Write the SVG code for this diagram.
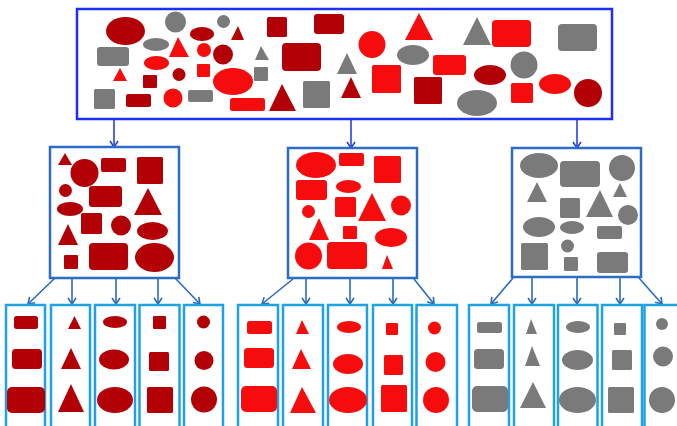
<svg xmlns="http://www.w3.org/2000/svg" width="677" height="426" viewBox="0 0 677 426">
<defs>
<marker id="ah1" viewBox="0 0 8 10" refX="7" refY="5" markerWidth="8" markerHeight="10" markerUnits="userSpaceOnUse" orient="auto">
<path d="M1,1 L7,5 L1,9" fill="none" stroke="#2a3fe0" stroke-width="1.6"/>
</marker>
<marker id="ah2" viewBox="0 0 8 10" refX="7" refY="5" markerWidth="8" markerHeight="10" markerUnits="userSpaceOnUse" orient="auto">
<path d="M1,1 L7,5 L1,9" fill="none" stroke="#2b69c2" stroke-width="1.6"/>
</marker>
<style>
.top{fill:#fff;stroke:#1f2ff0;stroke-width:2.5}
.mid{fill:#fff;stroke:#2b6cc4;stroke-width:2.5}
.bot{fill:#fff;stroke:#1ea2e6;stroke-width:2.5}
.c1{stroke:#2a3fe0;stroke-width:1.6;fill:none;marker-end:url(#ah1)}
.c2{stroke:#2b69c2;stroke-width:1.6;fill:none;marker-end:url(#ah2)}
.d{fill:#b30006}
.r{fill:#f60c0c}
.g{fill:#7a7a7a}
</style>
</defs>
<rect width="677" height="426" fill="#fff"/>

<g id="connectors">
<line class="c1" x1="114" y1="119" x2="114" y2="147"/>
<line class="c1" x1="351" y1="119" x2="351" y2="148"/>
<line class="c1" x1="577" y1="119" x2="577" y2="148"/>
<line class="c2" x1="55" y1="278" x2="28" y2="304"/>
<line class="c2" x1="72" y1="278" x2="72" y2="304"/>
<line class="c2" x1="116" y1="278" x2="116" y2="304"/>
<line class="c2" x1="158" y1="278" x2="158" y2="304"/>
<line class="c2" x1="175" y1="278" x2="200" y2="304"/>
<line class="c2" x1="293" y1="279" x2="262" y2="304"/>
<line class="c2" x1="306" y1="279" x2="306" y2="304"/>
<line class="c2" x1="350" y1="279" x2="350" y2="304"/>
<line class="c2" x1="393" y1="279" x2="393" y2="304"/>
<line class="c2" x1="414" y1="279" x2="434" y2="304"/>
<line class="c2" x1="513" y1="278" x2="491" y2="304"/>
<line class="c2" x1="532" y1="278" x2="532" y2="304"/>
<line class="c2" x1="577" y1="278" x2="577" y2="304"/>
<line class="c2" x1="620" y1="278" x2="620" y2="304"/>
<line class="c2" x1="639" y1="278" x2="662" y2="304"/>
</g>

<g id="top-set">
<rect class="top" x="77" y="9" width="535" height="110"/>
<ellipse class="d" cx="125.5" cy="31" rx="19.5" ry="14"/>
<circle class="g" cx="175.5" cy="22" r="10.5"/>
<circle class="g" cx="223.5" cy="21.5" r="6.5"/>
<ellipse class="d" cx="202" cy="34" rx="12" ry="7"/>
<polygon class="d" points="238,26 231,40 244,40"/>
<rect class="d" x="267" y="17" width="20" height="20" rx="1.5"/>
<rect class="d" x="314" y="14" width="30" height="20" rx="3"/>
<ellipse class="g" cx="156" cy="44.5" rx="13" ry="6.5"/>
<rect class="g" x="97" y="47" width="32" height="19" rx="3"/>
<polygon class="r" points="178,37 169,57 189,57"/>
<circle class="r" cx="204" cy="50" r="7"/>
<circle class="d" cx="223" cy="54.5" r="10"/>
<polygon class="g" points="261,46 255,60 269,60"/>
<rect class="d" x="282" y="43" width="39" height="28" rx="4"/>
<ellipse class="r" cx="156.5" cy="63" rx="12.5" ry="7"/>
<polygon class="r" points="120,68 113,81 127,81"/>
<rect class="d" x="143" y="75" width="14" height="13" rx="1"/>
<circle class="d" cx="179" cy="74.5" r="6.5"/>
<rect class="r" x="197" y="64" width="13" height="13" rx="1"/>
<ellipse class="r" cx="233" cy="81.5" rx="20" ry="13.5"/>
<rect class="g" x="254" y="67" width="14" height="14" rx="1"/>
<rect class="g" x="94" y="89" width="21" height="20" rx="1.5"/>
<rect class="d" x="126" y="94" width="25" height="13" rx="2"/>
<circle class="r" cx="173" cy="98" r="9.5"/>
<rect class="g" x="188" y="90" width="25" height="12" rx="2"/>
<rect class="r" x="230" y="98" width="35" height="13" rx="2.5"/>
<polygon class="d" points="282,84 269,111 296,111"/>
<rect class="g" x="303" y="81" width="27" height="27" rx="1.5"/>
<polygon class="g" points="347,53 337,74 357,74"/>
<circle class="r" cx="372" cy="44.5" r="13.5"/>
<polygon class="r" points="419,13 405,40 433,40"/>
<polygon class="g" points="477,17 463,45 491,45"/>
<rect class="r" x="492" y="20" width="39" height="27" rx="4"/>
<rect class="g" x="558" y="24" width="39" height="27" rx="4"/>
<ellipse class="g" cx="413" cy="55" rx="16" ry="10"/>
<rect class="r" x="433" y="55" width="33" height="20" rx="3"/>
<circle class="g" cx="524" cy="65" r="13.5"/>
<rect class="r" x="372" y="65" width="29" height="28" rx="1.5"/>
<polygon class="d" points="351,77 341,98 361,98"/>
<rect class="d" x="414" y="77" width="28" height="27" rx="1.5"/>
<ellipse class="d" cx="490" cy="75" rx="16" ry="10"/>
<ellipse class="g" cx="477" cy="103" rx="20" ry="13"/>
<rect class="r" x="511" y="83" width="22" height="20" rx="1.5"/>
<ellipse class="r" cx="555" cy="84" rx="16" ry="10"/>
<circle class="d" cx="588" cy="93" r="14"/>
</g>

<g id="group-darkred">
<rect class="mid" x="50" y="147" width="129" height="131"/>
<polygon class="d" points="65,153 58,165 72,165"/>
<circle class="d" cx="84.5" cy="173" r="14"/>
<rect class="d" x="101" y="158" width="25" height="14" rx="2"/>
<rect class="d" x="137" y="157" width="26" height="27" rx="1.5"/>
<circle class="d" cx="65.5" cy="190.5" r="6.5"/>
<rect class="d" x="89" y="186" width="33" height="21" rx="3"/>
<polygon class="d" points="148,188 134,215 162,215"/>
<ellipse class="d" cx="70" cy="209" rx="13" ry="7"/>
<rect class="d" x="81" y="213" width="21" height="21" rx="1.5"/>
<circle class="d" cx="121" cy="225.5" r="10"/>
<ellipse class="d" cx="152.5" cy="231" rx="15.5" ry="9"/>
<polygon class="d" points="68,224 58,245 78,245"/>
<rect class="d" x="89" y="243" width="39" height="27" rx="4"/>
<ellipse class="d" cx="154.5" cy="257.5" rx="19.5" ry="14.5"/>
<rect class="d" x="64" y="255" width="14" height="14" rx="1"/>
</g>

<g id="group-red">
<rect class="mid" x="288" y="148" width="129" height="130"/>
<ellipse class="r" cx="316" cy="165" rx="20" ry="13"/>
<rect class="r" x="339" y="153" width="25" height="13" rx="2"/>
<rect class="r" x="374" y="156" width="27" height="27" rx="1.5"/>
<rect class="r" x="296" y="180" width="31" height="20" rx="3"/>
<ellipse class="r" cx="348.5" cy="186.5" rx="12.5" ry="6.5"/>
<rect class="r" x="335" y="197" width="21" height="20" rx="1.5"/>
<polygon class="r" points="372,193 358,221 386,221"/>
<circle class="r" cx="401" cy="205.5" r="10"/>
<circle class="r" cx="308.5" cy="211.5" r="6.5"/>
<polygon class="r" points="319,218 309,240 329,240"/>
<rect class="r" x="343" y="226" width="14" height="13" rx="1"/>
<ellipse class="r" cx="391" cy="237.5" rx="16" ry="9.5"/>
<circle class="r" cx="308.5" cy="256" r="13.5"/>
<rect class="r" x="327" y="242" width="40" height="27" rx="4"/>
<polygon class="r" points="387,255 382,269 393,269"/>
</g>

<g id="group-gray">
<rect class="mid" x="512" y="148" width="129" height="129"/>
<ellipse class="g" cx="539" cy="165.5" rx="19" ry="12.5"/>
<rect class="g" x="560" y="161" width="40" height="26" rx="4"/>
<circle class="g" cx="622" cy="168" r="13"/>
<polygon class="g" points="537,182 527,202 547,202"/>
<polygon class="g" points="620,183 613,197 627,197"/>
<rect class="g" x="560" y="198" width="20" height="20" rx="1.5"/>
<polygon class="g" points="600,190 586,217 613,217"/>
<circle class="g" cx="628" cy="215" r="10"/>
<ellipse class="g" cx="539" cy="227" rx="16" ry="10"/>
<ellipse class="g" cx="572" cy="227.5" rx="12" ry="6.5"/>
<rect class="g" x="597" y="226" width="25" height="13" rx="2"/>
<rect class="g" x="521" y="243" width="27" height="27" rx="1.5"/>
<circle class="g" cx="567.5" cy="246" r="6.5"/>
<rect class="g" x="564" y="257" width="14" height="14" rx="1"/>
<rect class="g" x="597" y="252" width="31" height="21" rx="3"/>
</g>

<g id="dr-rects">
<rect class="bot" x="6" y="305" width="39" height="130"/>
<rect class="d" x="14" y="316" width="24" height="13" rx="2.5"/>
<rect class="d" x="12" y="349" width="30" height="20" rx="3.5"/>
<rect class="d" x="7" y="387" width="38" height="26" rx="5"/>
</g>
<g id="dr-triangles">
<rect class="bot" x="51" y="305" width="39" height="130"/>
<polygon class="d" points="74.5,316 68,329 81,329"/>
<polygon class="d" points="71,348 61,369 81,369"/>
<polygon class="d" points="71,384 58,412 84,412"/>
</g>
<g id="dr-ellipses">
<rect class="bot" x="95" y="305" width="40" height="130"/>
<ellipse class="d" cx="115" cy="322" rx="12" ry="6"/>
<ellipse class="d" cx="114" cy="359.5" rx="15" ry="10"/>
<ellipse class="d" cx="115" cy="400" rx="18" ry="13"/>
</g>
<g id="dr-squares">
<rect class="bot" x="139.5" y="305" width="40" height="130"/>
<rect class="d" x="153" y="316" width="13" height="13" rx="1"/>
<rect class="d" x="149" y="352" width="20" height="19" rx="1.5"/>
<rect class="d" x="147" y="387" width="26" height="26" rx="1.5"/>
</g>
<g id="dr-circles">
<rect class="bot" x="184" y="305" width="39" height="130"/>
<circle class="d" cx="203.5" cy="322" r="6.5"/>
<circle class="d" cx="204" cy="360.5" r="9.5"/>
<circle class="d" cx="204" cy="399.5" r="13"/>
</g>

<g id="r-rects">
<rect class="bot" x="238" y="305" width="40" height="130"/>
<rect class="r" x="247" y="321" width="25" height="13" rx="2.5"/>
<rect class="r" x="244" y="348" width="30" height="20" rx="3.5"/>
<rect class="r" x="241" y="386" width="36" height="26" rx="5"/>
</g>
<g id="r-triangles">
<rect class="bot" x="283" y="305" width="40" height="130"/>
<polygon class="r" points="302,320 296,334 309,334"/>
<polygon class="r" points="301,349 292,369 311,369"/>
<polygon class="r" points="302,387 290,413 316,413"/>
</g>
<g id="r-ellipses">
<rect class="bot" x="328" y="305" width="39" height="130"/>
<ellipse class="r" cx="349" cy="327" rx="12" ry="6"/>
<ellipse class="r" cx="348" cy="364" rx="15" ry="10"/>
<ellipse class="r" cx="348" cy="400" rx="19" ry="13"/>
</g>
<g id="r-squares">
<rect class="bot" x="373" y="305" width="39" height="130"/>
<rect class="r" x="386" y="323" width="12" height="12" rx="1"/>
<rect class="r" x="384" y="355" width="19" height="20" rx="1.5"/>
<rect class="r" x="381" y="385" width="26" height="27" rx="1.5"/>
</g>
<g id="r-circles">
<rect class="bot" x="416.5" y="305" width="40.5" height="130"/>
<circle class="r" cx="434.5" cy="328" r="6.5"/>
<circle class="r" cx="435.5" cy="362" r="10"/>
<circle class="r" cx="436" cy="400" r="13"/>
</g>

<g id="g-rects">
<rect class="bot" x="469" y="305" width="40" height="130"/>
<rect class="g" x="477" y="322" width="25" height="11" rx="2.5"/>
<rect class="g" x="474" y="349" width="30" height="20" rx="3.5"/>
<rect class="g" x="472" y="386" width="36" height="26" rx="5"/>
</g>
<g id="g-triangles">
<rect class="bot" x="514" y="305" width="40" height="130"/>
<polygon class="g" points="531,319 526,334 537,334"/>
<polygon class="g" points="532,346 525,366 540,366"/>
<polygon class="g" points="533,382 520,408 546,408"/>
</g>
<g id="g-ellipses">
<rect class="bot" x="558" y="305" width="39.5" height="130"/>
<ellipse class="g" cx="578" cy="327" rx="12" ry="6"/>
<ellipse class="g" cx="577.5" cy="360" rx="15.5" ry="10"/>
<ellipse class="g" cx="577.5" cy="400" rx="18.5" ry="13"/>
</g>
<g id="g-squares">
<rect class="bot" x="602" y="305" width="40" height="130"/>
<rect class="g" x="614" y="323" width="12" height="12" rx="1"/>
<rect class="g" x="612" y="350" width="20" height="20" rx="1.5"/>
<rect class="g" x="608" y="387" width="26" height="26" rx="1.5"/>
</g>
<g id="g-circles">
<rect class="bot" x="644.5" y="305" width="39" height="130"/>
<circle class="g" cx="662" cy="324" r="6"/>
<circle class="g" cx="663" cy="356.5" r="10"/>
<circle class="g" cx="662" cy="400" r="13"/>
</g>
</svg>
